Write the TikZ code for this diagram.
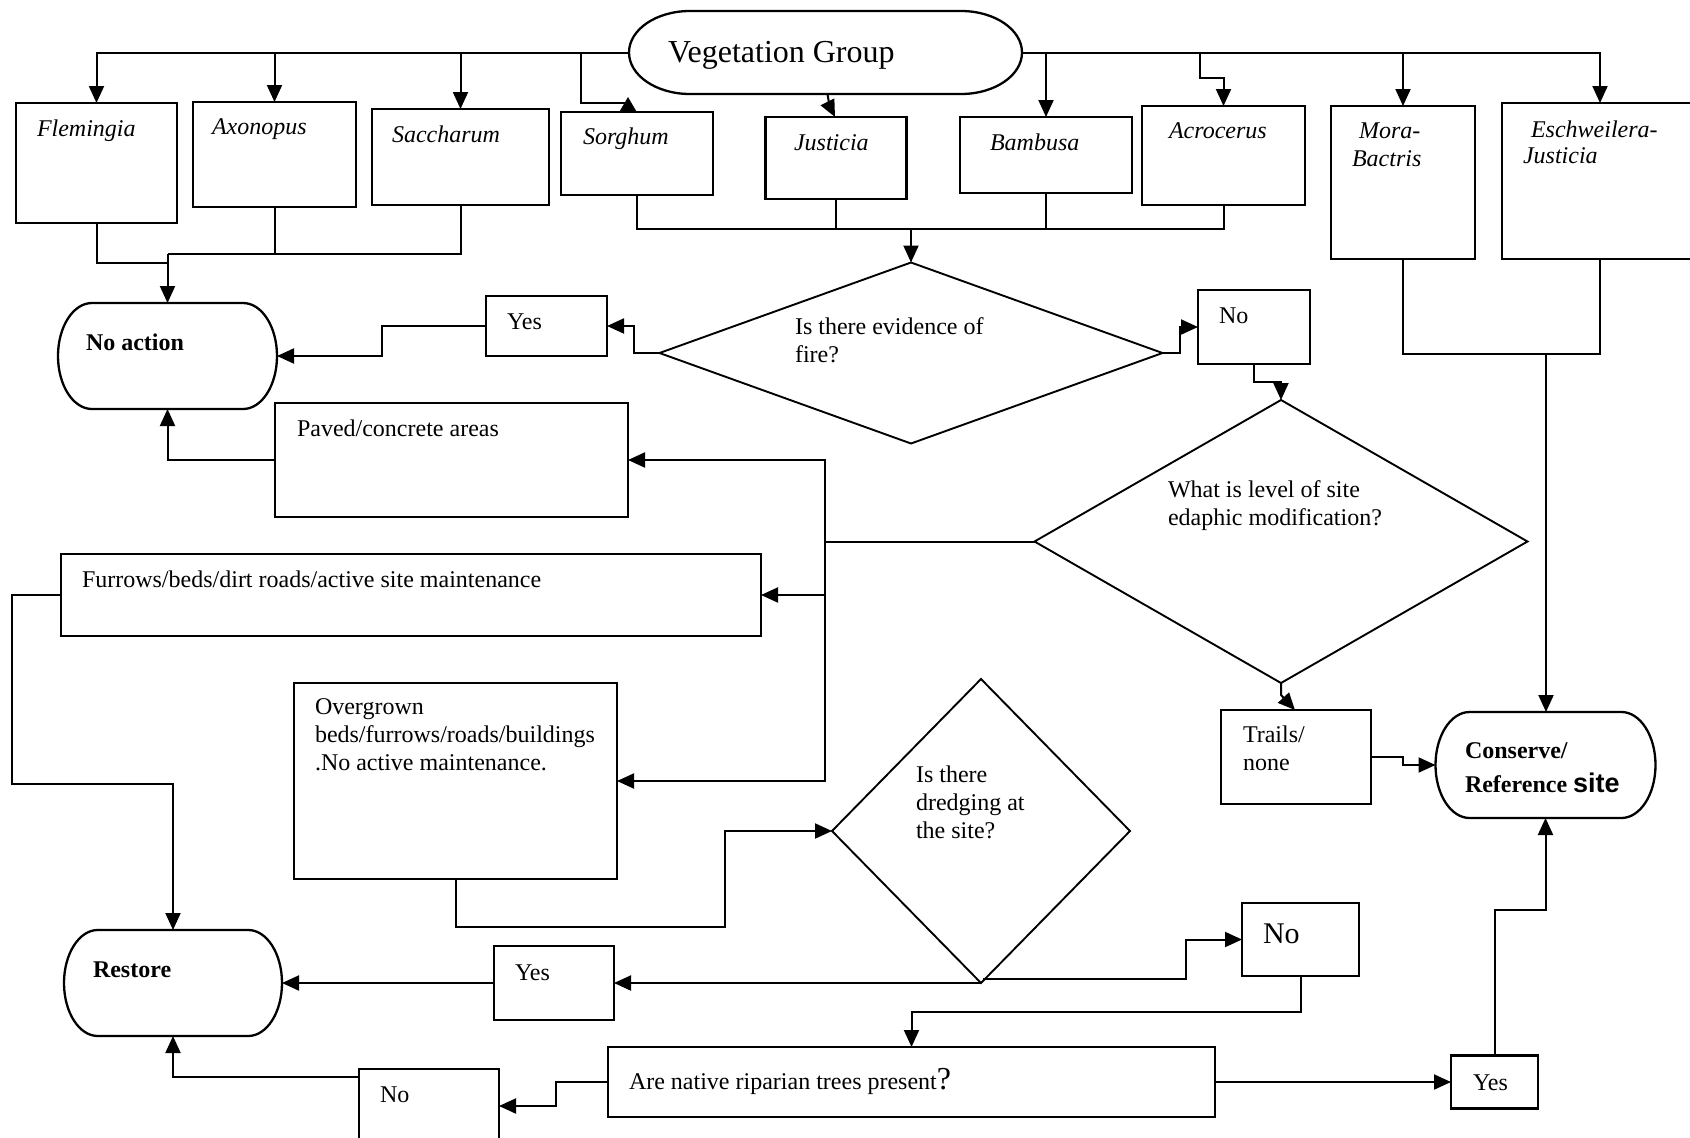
\documentclass[tikz,border=0pt]{standalone}
\usepackage{fontspec}
\setmainfont{Liberation Serif}
\newfontfamily\sitefont{Liberation Sans}
\usetikzlibrary{arrows.meta,shapes.geometric,calc}

\tikzset{
  boxline/.style={line width=2.3pt, draw=black},
  sbox/.style={rectangle, boxline, inner sep=0pt, outer sep=0pt},
  termnode/.style={rectangle, inner sep=0pt, outer sep=0pt},
  dia/.style={diamond, draw=black, line width=1.9pt, inner sep=0pt, outer sep=0pt},
  conn/.style={line width=2pt, draw=black},
  arr/.style={conn, -{Triangle[length=17pt,width=15pt]}},
  rarr/.style={conn, -{Triangle[length=15pt,width=17pt,reversed]}},
  txt/.style={anchor=base west, inner sep=0pt, outer sep=0pt, font=\fontsize{24}{28}\selectfont},
  ital/.style={txt, font=\fontsize{24}{28}\selectfont\itshape},
  bld/.style={txt, font=\fontsize{24}{28}\selectfont\bfseries},
}

\newcommand\sboxat[5]{\node[sbox, minimum width=#4pt, minimum height=#5pt] (#1) at (#2,#3) {};}
\newcommand\termat[5]{%
  \node[termnode, minimum width=#4pt, minimum height=#5pt] (#1) at (#2,#3) {};
  \pgfmathsetmacro\trx{0.155*#4}%
  \pgfmathsetmacro\try{#5/2}%
  \draw[boxline] ([xshift=\trx pt]#1.north west) -- ([xshift=-\trx pt]#1.north east)
     arc[start angle=90, end angle=-90, x radius=\trx pt, y radius=\try pt]
     -- ([xshift=\trx pt]#1.south west)
     arc[start angle=270, end angle=90, x radius=\trx pt, y radius=\try pt] -- cycle;
}

\begin{document}
\begin{tikzpicture}[x=1pt,y=-1pt]
\fill[white] (0,0) rectangle (1690,1138);
\useasboundingbox (0,0) rectangle (1690,1138);

% ---------- terminators ----------
\termat{vg}{825.5}{52.5}{393}{83}
\termat{na}{167.5}{356}{219}{106}
\termat{rs}{173}{983}{218}{106}
\termat{cs}{1545.5}{765}{220}{106}

% ---------- top boxes ----------
\sboxat{fl}{96.5}{163}{161}{120}
\sboxat{ax}{274.5}{154.5}{163}{105}
\sboxat{sa}{460.5}{157}{177}{96}
\sboxat{so}{637}{153.5}{152}{83}
\sboxat{ju}{836}{158}{141}{82}
\sboxat{ba}{1046}{155}{172}{76}
\sboxat{ac}{1223.5}{155.5}{163}{99}
\sboxat{mo}{1403}{182.5}{144}{153}
\sboxat{es}{1600}{181}{196}{156}

% ---------- other boxes ----------
\sboxat{y1}{546.5}{326}{121}{60}
\sboxat{n1}{1254}{327}{112}{74}
\sboxat{pv}{451.5}{460}{353}{114}
\sboxat{fu}{411}{595}{700}{82}
\sboxat{ov}{455.5}{781}{323}{196}
\sboxat{tr}{1296}{757}{150}{94}
\sboxat{y2}{554}{983}{120}{74}
\sboxat{n2}{1300.5}{939.5}{117}{73}
\sboxat{ri}{911.5}{1082}{607}{70}
\sboxat{n3}{429}{1106}{140}{74}
\sboxat{y3}{1494.5}{1082}{87}{53}

% ---------- diamonds ----------
\node[dia, minimum width=503pt, minimum height=181pt] (fire) at (911,353) {};
\node[dia, minimum width=493pt, minimum height=283pt] (ed) at (1281,541.5) {};
\node[dia, minimum width=298pt, minimum height=304pt] (dr) at (981,831) {};

% ---------- texts ----------
\node[txt, font=\fontsize{32}{36}\selectfont] (vgt) at (668,62) {Vegetation Group};
\node[ital] (flt) at (37,136) {Flemingia};
\node[ital] (axt) at (212,134) {Axonopus};
\node[ital] (sat) at (392,142) {Saccharum};
\node[ital] (sot) at (583,144) {Sorghum};
\node[ital] (jut) at (794,150) {Justicia};
\node[ital] (bat) at (990,150) {Bambusa};
\node[ital] (act) at (1169,138) {Acrocerus};
\node[ital] (mot1) at (1359,138) {Mora-};
\node[ital] (mot2) at (1352,166) {Bactris};
\node[ital] (est1) at (1531,137) {Eschweilera-};
\node[ital] (est2) at (1523,163) {Justicia};

\node[bld] (nat) at (86,350) {No action};
\node[txt] (y1t) at (507,329) {Yes};
\node[txt] (fit1) at (795,334) {Is there evidence of};
\node[txt] (fit2) at (795,362) {fire?};
\node[txt] (n1t) at (1219,323) {No};
\node[txt] (pvt) at (297,436) {Paved/concrete areas};
\node[txt] (edt1) at (1168,497) {What is level of site};
\node[txt] (edt2) at (1168,525) {edaphic modification?};
\node[txt] (fut) at (82,587) {Furrows/beds/dirt roads/active site maintenance};
\node[txt] (ovt1) at (315,714) {Overgrown};
\node[txt] (ovt2) at (315,742) {beds/furrows/roads/buildings};
\node[txt] (ovt3) at (315,770) {.No active maintenance.};
\node[txt] (drt1) at (916,782) {Is there};
\node[txt] (drt2) at (916,810) {dredging at};
\node[txt] (drt3) at (916,838) {the site?};
\node[txt] (trt1) at (1243,742) {Trails/};
\node[txt] (trt2) at (1243,770) {none};
\node[bld] (cst1) at (1465,758) {Conserve/};
\node[bld] (cst2) at (1465,792) {Reference {\sitefont\fontsize{27}{30}\selectfont site}};
\node[txt, font=\fontsize{30}{34}\selectfont] (n2t) at (1263,943) {No};
\node[bld] (rst) at (93,977) {Restore};
\node[txt] (y2t) at (515,980) {Yes};
\node[txt] (rit) at (629,1089) {Are native riparian trees present{\fontsize{32}{36}\selectfont ?}};
\node[txt] (n3t) at (380,1102) {No};
\node[txt] (y3t) at (1473,1090) {Yes};

% ---------- connectors: vegetation group to genera ----------
\draw[arr] (vg.west) -| (fl.north);
\draw[arr] (vg.west) -| (ax.north);
\draw[arr] (vg.west) -| (sa.north);
\draw[rarr] (vg.west) -| (581,103) -| ([xshift=-9pt]so.north);
\draw[arr] ([xshift=2pt]vg.south) -- ++(2,12) -- ([xshift=-1pt]ju.north);
\draw[arr] (vg.east) -| (ba.north);
\draw[arr] (vg.east) -| (1200,78) -| (ac.north);
\draw[arr] (vg.east) -| (mo.north);
\draw[arr] (vg.east) -| (es.north);

% ---------- left group to No action ----------
\coordinate (nj) at (167.5,254);
\draw[conn] (fl.south) |- (167.5,263);
\draw[conn] (ax.south) |- (nj);
\draw[conn] (sa.south) |- (nj);
\draw[arr] (nj) -- (na.north);

% ---------- middle group to fire ----------
\coordinate (fj) at (911,229);
\draw[conn] (so.south) |- (fj);
\draw[conn] (ju.south) -- (ju.south |- fj);
\draw[conn] (ba.south) |- (fj);
\draw[conn] (ac.south) |- (fj);
\draw[arr] (fj) -- (fire.north);

% ---------- right group to conserve ----------
\coordinate (mj) at (1546,354);
\draw[conn] (mo.south) |- (mj);
\draw[conn] (es.south) |- (mj);
\draw[arr] (mj) -- (mj |- cs.north);

% ---------- fire ----------
\draw[arr] (fire.west) -- ++(-26,0) |- (y1.east);
\draw[arr] (y1.west) -- (382,326) |- (na.east);
\draw[arr] (fire.east) -- ++(17,0) |- (n1.west);
\draw[arr] (n1.south) -- ++(0,18) -| (ed.north);

% ---------- edaphic ----------
\coordinate (bus) at (825,541.5);
\draw[conn] (ed.west) -- (bus);
\draw[arr] (bus) |- (pv.east);
\draw[arr] (bus) |- (fu.east);
\draw[arr] (bus) |- (ov.east);
\draw[arr] (ed.south) -- ++(0,12) -- ([xshift=-1pt]tr.north);
\draw[arr] (tr.east) -- ++(32,0) |- (cs.west);

\draw[arr] (pv.west) -| (na.south);
\draw[arr] (fu.west) -- (12,595) |- (173,784) -- (rs.north);

% ---------- dredging ----------
\draw[arr] (ov.south) |- (725,927) |- (dr.west);
\draw[arr] (dr.south) -- (y2.east);
\draw[arr] (y2.west) -- (rs.east);
\draw[arr] ($(dr.south)+(2,-4)$) -- (1186,979) |- (n2.west);
\draw[arr] (n2.south) -- ++(0,36) -| (ri.north);

% ---------- riparian ----------
\draw[arr] (ri.west) -- ++(-52,0) |- (n3.east);
\draw[arr] ($(n3.west)+(0,-29)$) -| (rs.south);
\draw[arr] (ri.east) -- (y3.west);
\draw[arr] (y3.north) -- ++(0,-146) -| (cs.south);
\end{tikzpicture}
\end{document}
